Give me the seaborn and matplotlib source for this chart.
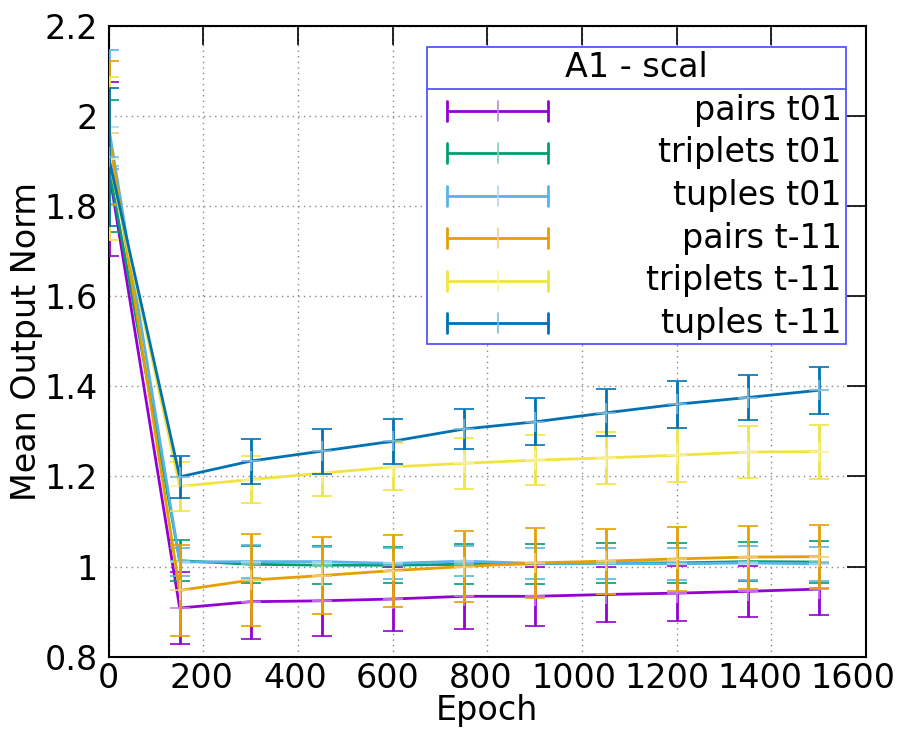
import numpy as np
import pandas as pd
import matplotlib
matplotlib.use("Agg")
import matplotlib.pyplot as plt
import matplotlib.colors as mcolors
from matplotlib.patches import Rectangle
from matplotlib.ticker import FuncFormatter
from matplotlib.transforms import ScaledTranslation
import seaborn as sns

# data
epochs = [0, 150, 300, 450, 600, 750, 900, 1050, 1200, 1350, 1500]
series_names = ["pairs t01", "triplets t01", "tuples t01",
                "pairs t-11", "triplets t-11", "tuples t-11"]
series_colors = ["#9400d3", "#009e73", "#56b4e9", "#e69f00", "#f0e442", "#0072b2"]

pairs_t01 = [1.882, 0.908, 0.922, 0.924, 0.928, 0.934, 0.934, 0.938, 0.941, 0.945, 0.950]
pairs_t01_err = [0.193, 0.080, 0.083, 0.079, 0.072, 0.072, 0.066, 0.062, 0.061, 0.057, 0.057]
triplets_t01 = [1.888, 1.013, 1.005, 1.003, 1.003, 1.005, 1.006, 1.008, 1.008, 1.011, 1.010]
triplets_t01_err = [0.146, 0.045, 0.041, 0.042, 0.040, 0.044, 0.045, 0.045, 0.045, 0.044, 0.047]
tuples_t01 = [1.975, 1.010, 1.011, 1.011, 1.007, 1.012, 1.007, 1.007, 1.006, 1.008, 1.006]
tuples_t01_err = [0.170, 0.032, 0.036, 0.033, 0.034, 0.033, 0.034, 0.034, 0.035, 0.037, 0.037]
pairs_t11 = [1.962, 0.947, 0.970, 0.980, 0.991, 1.000, 1.008, 1.012, 1.017, 1.021, 1.022]
pairs_t11_err = [0.159, 0.100, 0.103, 0.085, 0.080, 0.078, 0.077, 0.072, 0.071, 0.070, 0.070]
triplets_t11 = [1.905, 1.178, 1.193, 1.207, 1.221, 1.229, 1.236, 1.241, 1.247, 1.254, 1.255]
triplets_t11_err = [0.181, 0.055, 0.052, 0.050, 0.052, 0.056, 0.055, 0.058, 0.060, 0.058, 0.060]
tuples_t11 = [1.908, 1.199, 1.234, 1.256, 1.278, 1.305, 1.321, 1.341, 1.360, 1.375, 1.391]
tuples_t11_err = [0.153, 0.046, 0.050, 0.050, 0.050, 0.045, 0.052, 0.052, 0.052, 0.050, 0.052]

means = [pairs_t01, triplets_t01, tuples_t01, pairs_t11, triplets_t11, tuples_t11]
errs = [pairs_t01_err, triplets_t01_err, tuples_t01_err,
        pairs_t11_err, triplets_t11_err, tuples_t11_err]

x_ticks = [0, 200, 400, 600, 800, 1000, 1200, 1400, 1600]
y_ticks = [0.8, 1.0, 1.2, 1.4, 1.6, 1.8, 2.0, 2.2]

sns.set_theme(style="white")
plt.rcParams['font.family'] = ['DejaVu Sans']
plt.rcParams['text.color'] = 'black'
plt.rcParams['axes.labelcolor'] = 'black'
plt.rcParams['xtick.color'] = 'black'
plt.rcParams['ytick.color'] = 'black'


def lighter(c, amount=0.5):
    r, g, b = mcolors.to_rgb(c)
    return (r + (1 - r) * amount, g + (1 - g) * amount, b + (1 - b) * amount)


fig = plt.figure(figsize=(9.15, 7.33), dpi=100)
ax = fig.add_axes([0.1188, 0.1041, 0.8276, 0.8609])

for i, name in enumerate(series_names):
    df = pd.DataFrame({"epoch": epochs, "norm": means[i]})
    sns.lineplot(data=df, x="epoch", y="norm", ax=ax, color=series_colors[i],
                 lw=2, zorder=3 + i, legend=False)
    ax.errorbar(epochs, means[i], yerr=errs[i], fmt="+", ms=14, mew=1.2,
                mec=lighter(series_colors[i]), ecolor=series_colors[i],
                elinewidth=2, capsize=7.5, capthick=2, zorder=3 + i)

ax.set_xlim(0, 1600)
ax.set_ylim(0.8, 2.2)
ax.set_xticks(x_ticks)
ax.set_yticks(y_ticks)
ax.yaxis.set_major_formatter(FuncFormatter(lambda v, p: "%g" % round(v, 2)))
ax.tick_params(direction="in", length=14, width=1.2, top=True, right=True,
               labelsize=24, colors="black")
ax.tick_params(axis="y", pad=8)
ax.tick_params(axis="x", pad=4)
ax.grid(True, ls=(0, (1, 3)), color="#888888", lw=1)
for s in ax.spines.values():
    s.set_color("black")
    s.set_linewidth(1.5)

# gnuplot spaces the x labels a little tighter than the ticks
for t, lab in zip(x_ticks, ax.get_xticklabels()):
    lab.set_transform(lab.get_transform() +
                      ScaledTranslation(-t * 13.0 / 1600 / 100, 0, fig.dpi_scale_trans))

ax.set_xlabel("Epoch", fontsize=24, labelpad=-1, color="black")
ax.set_ylabel("Mean Output Norm", fontsize=24, labelpad=1, color="black")

# legend box, drawn like the gnuplot key
box_l, box_r, box_b, box_t = 0.4207, 0.9736, 0.4956, 0.9658
sep_y = 0.8992
ax.add_patch(Rectangle((box_l, box_b), box_r - box_l, box_t - box_b,
                       transform=ax.transAxes, fill=True, facecolor="white",
                       edgecolor="#5555ff", lw=1.3, zorder=20))
ax.plot([box_l, box_r], [sep_y, sep_y], transform=ax.transAxes,
        color="#5555ff", lw=1.3, zorder=21)
ax.text((box_l + box_r) / 2, 0.933, "A1 - scal", transform=ax.transAxes,
        ha="center", va="center", fontsize=24, zorder=22)

row_y = [0.8653, 0.7983, 0.7306, 0.6631, 0.5959, 0.5284]
sx0, sx1 = 0.4471, 0.5805
cap = 0.016
for i, name in enumerate(series_names):
    yy = row_y[i]
    c = series_colors[i]
    ax.plot([sx0, sx1], [yy, yy], transform=ax.transAxes, color=c, lw=2, zorder=22)
    for xx in (sx0, sx1):
        ax.plot([xx, xx], [yy - cap, yy + cap], transform=ax.transAxes,
                color=c, lw=2, zorder=22)
    ax.plot([(sx0 + sx1) / 2] * 2, [yy - cap, yy + cap], transform=ax.transAxes,
            color=lighter(c), lw=1.2, zorder=23)
    ax.text(0.9679, yy, name, transform=ax.transAxes, ha="right", va="center",
            fontsize=24, zorder=22)

fig.savefig("out.png", dpi=100)
